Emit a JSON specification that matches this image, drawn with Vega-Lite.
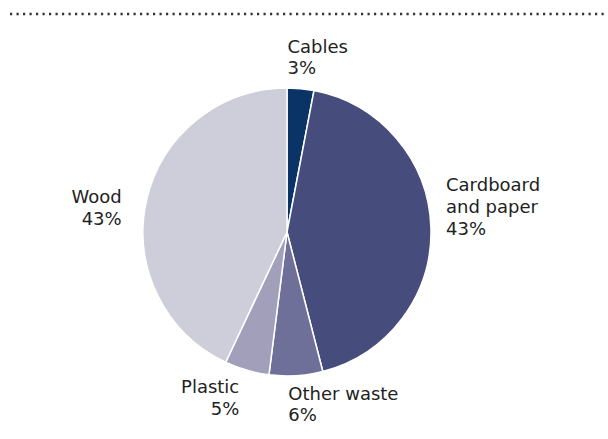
{
  "$schema": "https://vega.github.io/schema/vega-lite/v6.json",
  "width": 554,
  "height": 414,
  "autosize": {"type": "none"},
  "padding": {"left": 10, "top": 25, "right": 44, "bottom": 0},
  "background": "white",
  "config": {"view": {"stroke": null}},
  "layer": [
    {
      "data": {"values": [{"divider": 1}]},
      "mark": {"type": "rule", "color": "#333333", "strokeWidth": 2.4, "strokeDash": [2.2, 4.3]},
      "encoding": {"x": {"value": 0}, "x2": {"value": 598}, "y": {"value": -11}}
    },
    {
      "data": {
        "values": [
          {"name": "Cables", "value": 3, "order": 1, "label": "Cables\n3%"},
          {"name": "Cardboard and paper", "value": 43, "order": 2, "label": "Cardboard\nand paper\n43%"},
          {"name": "Other waste", "value": 6, "order": 3, "label": "Other waste\n6%"},
          {"name": "Plastic", "value": 5, "order": 4, "label": "Plastic\n5%"},
          {"name": "Wood", "value": 43, "order": 5, "label": "Wood\n43%"}
        ]
      },
      "encoding": {
        "theta": {"field": "value", "type": "quantitative", "stack": true},
        "order": {"field": "order", "type": "quantitative"},
        "detail": {"field": "name", "type": "nominal"}
      },
      "layer": [
        {
          "mark": {"type": "arc", "radius": 144, "stroke": "white", "strokeWidth": 1.5},
          "encoding": {
            "color": {
              "field": "name",
              "type": "nominal",
              "legend": null,
              "scale": {
                "domain": ["Cables", "Cardboard and paper", "Other waste", "Plastic", "Wood"],
                "range": ["#0a3466", "#464d7c", "#6f7099", "#a19fba", "#cecdda"]
              }
            }
          }
        },
        {
          "mark": {"type": "text", "radius": 160, "align": "left", "baseline": "alphabetic", "lineBreak": "\n", "lineHeight": 21.5, "font": "DejaVu Sans", "fontSize": 18, "color": "#222222", "dx": -14.6, "dy": -20},
          "encoding": {"text": {"condition": {"test": "datum.name === 'Cables'", "field": "label"}, "value": ""}}
        },
        {
          "mark": {"type": "text", "radius": 160, "align": "left", "baseline": "alphabetic", "lineBreak": "\n", "lineHeight": 22, "font": "DejaVu Sans", "fontSize": 18, "color": "#222222", "dx": -0.9, "dy": -36.3},
          "encoding": {"text": {"condition": {"test": "datum.name === 'Cardboard and paper'", "field": "label"}, "value": ""}}
        },
        {
          "mark": {"type": "text", "radius": 160, "align": "left", "baseline": "alphabetic", "lineBreak": "\n", "lineHeight": 21.5, "font": "DejaVu Sans", "fontSize": 18, "color": "#222222", "dx": -8.7, "dy": 8.3},
          "encoding": {"text": {"condition": {"test": "datum.name === 'Other waste'", "field": "label"}, "value": ""}}
        },
        {
          "mark": {"type": "text", "radius": 160, "align": "right", "baseline": "alphabetic", "lineBreak": "\n", "lineHeight": 21.5, "font": "DejaVu Sans", "fontSize": 18, "color": "#222222", "dx": -3.1, "dy": 7.7},
          "encoding": {"text": {"condition": {"test": "datum.name === 'Plastic'", "field": "label"}, "value": ""}}
        },
        {
          "mark": {"type": "text", "radius": 160, "align": "right", "baseline": "alphabetic", "lineBreak": "\n", "lineHeight": 22, "font": "DejaVu Sans", "fontSize": 18, "color": "#222222", "dx": -9.2, "dy": 6.2},
          "encoding": {"text": {"condition": {"test": "datum.name === 'Wood'", "field": "label"}, "value": ""}}
        }
      ]
    }
  ]
}
